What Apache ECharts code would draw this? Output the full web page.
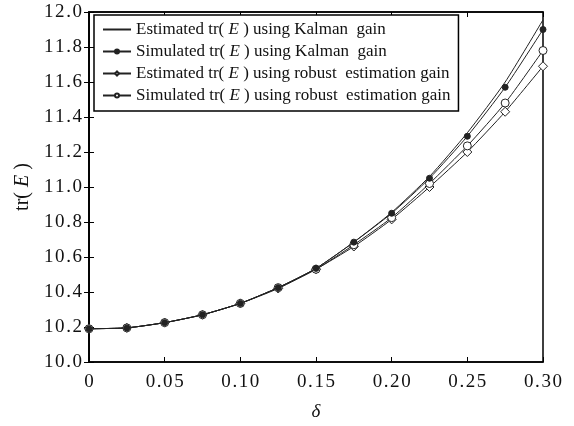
<!DOCTYPE html>
<html>
<head>
<meta charset="utf-8">
<script src="https://cdn.jsdelivr.net/npm/echarts@6/dist/echarts.min.js"></script>
<style>
  html, body { margin: 0; padding: 0; background: #fff; }
  #chart { width: 574px; height: 426px; }
</style>
</head>
<body>
<div id="chart"></div>
<script>
// delta values on the x axis
const deltas = [0, 0.025, 0.05, 0.075, 0.1, 0.125, 0.15, 0.175, 0.2, 0.225, 0.25, 0.275, 0.3]

const estKalman = [10.19, 10.195, 10.225, 10.27, 10.335, 10.425, 10.535, 10.685, 10.855, 11.06, 11.31, 11.60, 11.955]
const simKalman = [10.19, 10.195, 10.225, 10.27, 10.335, 10.425, 10.535, 10.685, 10.85, 11.05, 11.29, 11.57, 11.90]
const estRobust = [10.19, 10.195, 10.225, 10.27, 10.335, 10.42, 10.53, 10.66, 10.815, 11.0, 11.2, 11.43, 11.69]
const simRobust = [10.19, 10.195, 10.225, 10.27, 10.335, 10.425, 10.53, 10.67, 10.825, 11.02, 11.235, 11.48, 11.78]

const seriesNames = [
  'Estimated {i|tr( }{e|E}{i| )} using Kalman  gain',
  'Simulated {i|tr( }{e|E}{i| )} using Kalman  gain',
  'Estimated {i|tr( }{e|E}{i| )} using robust  estimation gain',
  'Simulated {i|tr( }{e|E}{i| )} using robust  estimation gain'
]

const font = 'Liberation Serif'
const ink = '#222'

function pairs(vals) {
  return deltas.map((d, i) => [d, vals[i]])
}

// spread the digits a little, like the printed labels
function spaced(s) {
  return s.split('').join('\u200A')
}

const chart = echarts.init(document.getElementById('chart'))

function makeSeries(name, vals, symbol, size, fill, z) {
  return {
    name: name,
    type: 'line',
    data: pairs(vals),
    smooth: 0.2,
    z: z,
    symbol: symbol,
    symbolSize: size,
    showSymbol: symbol !== 'none',
    lineStyle: { color: ink, width: 1 },
    itemStyle: { color: fill, borderColor: ink, borderWidth: 1 },
    emphasis: { disabled: true },
    animation: false
  }
}

const axisCommon = {
  axisLine: { show: true, lineStyle: { color: '#000', width: 1.5 } },
  axisTick: { show: true, inside: true, length: 5, lineStyle: { color: '#000' } },
  splitLine: { show: false }
}

const legendData = seriesNames.map((n, i) => i === 0
  ? { name: n, itemStyle: { color: 'rgba(0,0,0,0)', borderColor: 'rgba(0,0,0,0)' } }
  : { name: n })

chart.setOption({
  animation: false,
  grid: {
    left: 89, right: 31, top: 12, bottom: 59,
    show: true, borderColor: '#000', borderWidth: 1.5
  },
  legend: {
    orient: 'vertical',
    left: 94,
    top: 15,
    padding: [6, 8, 7, 8],
    itemGap: 5,
    itemWidth: 28,
    itemHeight: 5,
    backgroundColor: '#fff',
    borderColor: '#000',
    borderWidth: 1.5,
    borderRadius: 0,
    textStyle: {
      fontFamily: font, fontSize: 17, color: '#111',
      rich: {
        i: { fontFamily: font, fontSize: 17, color: '#111' },
        e: { fontFamily: font, fontSize: 17, fontStyle: 'italic', color: '#111' }
      }
    },
    data: legendData
  },
  xAxis: [{
    type: 'value',
    min: 0, max: 0.3, interval: 0.05,
    name: 'δ',
    nameLocation: 'middle',
    nameGap: 40,
    nameTextStyle: { fontFamily: font, fontSize: 19, fontStyle: 'italic', color: '#111' },
    axisLabel: {
      fontFamily: font, fontSize: 19, color: '#111', margin: 11,
      formatter: v => v === 0 ? '0' : spaced(v.toFixed(2))
    },
    ...axisCommon
  }, {
    type: 'value', position: 'top',
    min: 0, max: 0.3, interval: 0.05,
    axisLabel: { show: false },
    ...axisCommon
  }],
  yAxis: [{
    type: 'value',
    min: 10, max: 12, interval: 0.2,
    name: 'tr( {e|E} )',
    nameLocation: 'middle',
    nameGap: 48,
    nameRotate: 90,
    nameTextStyle: {
      fontFamily: font, fontSize: 20, color: '#111',
      rich: { e: { fontFamily: font, fontSize: 20, fontStyle: 'italic', color: '#111' } }
    },
    axisLabel: {
      fontFamily: font, fontSize: 19, color: '#111', margin: 7,
      formatter: v => spaced(v.toFixed(1))
    },
    ...axisCommon
  }, {
    type: 'value', position: 'right',
    min: 10, max: 12, interval: 0.2,
    axisLabel: { show: false },
    ...axisCommon
  }],
  series: [
    makeSeries(seriesNames[0], estKalman, 'none', 0, ink, 2),
    makeSeries(seriesNames[1], simKalman, 'circle', 6, ink, 5),
    makeSeries(seriesNames[2], estRobust, 'diamond', 9, '#fff', 3),
    makeSeries(seriesNames[3], simRobust, 'circle', 8, '#fff', 4)
  ]
})
</script>
</body>
</html>
